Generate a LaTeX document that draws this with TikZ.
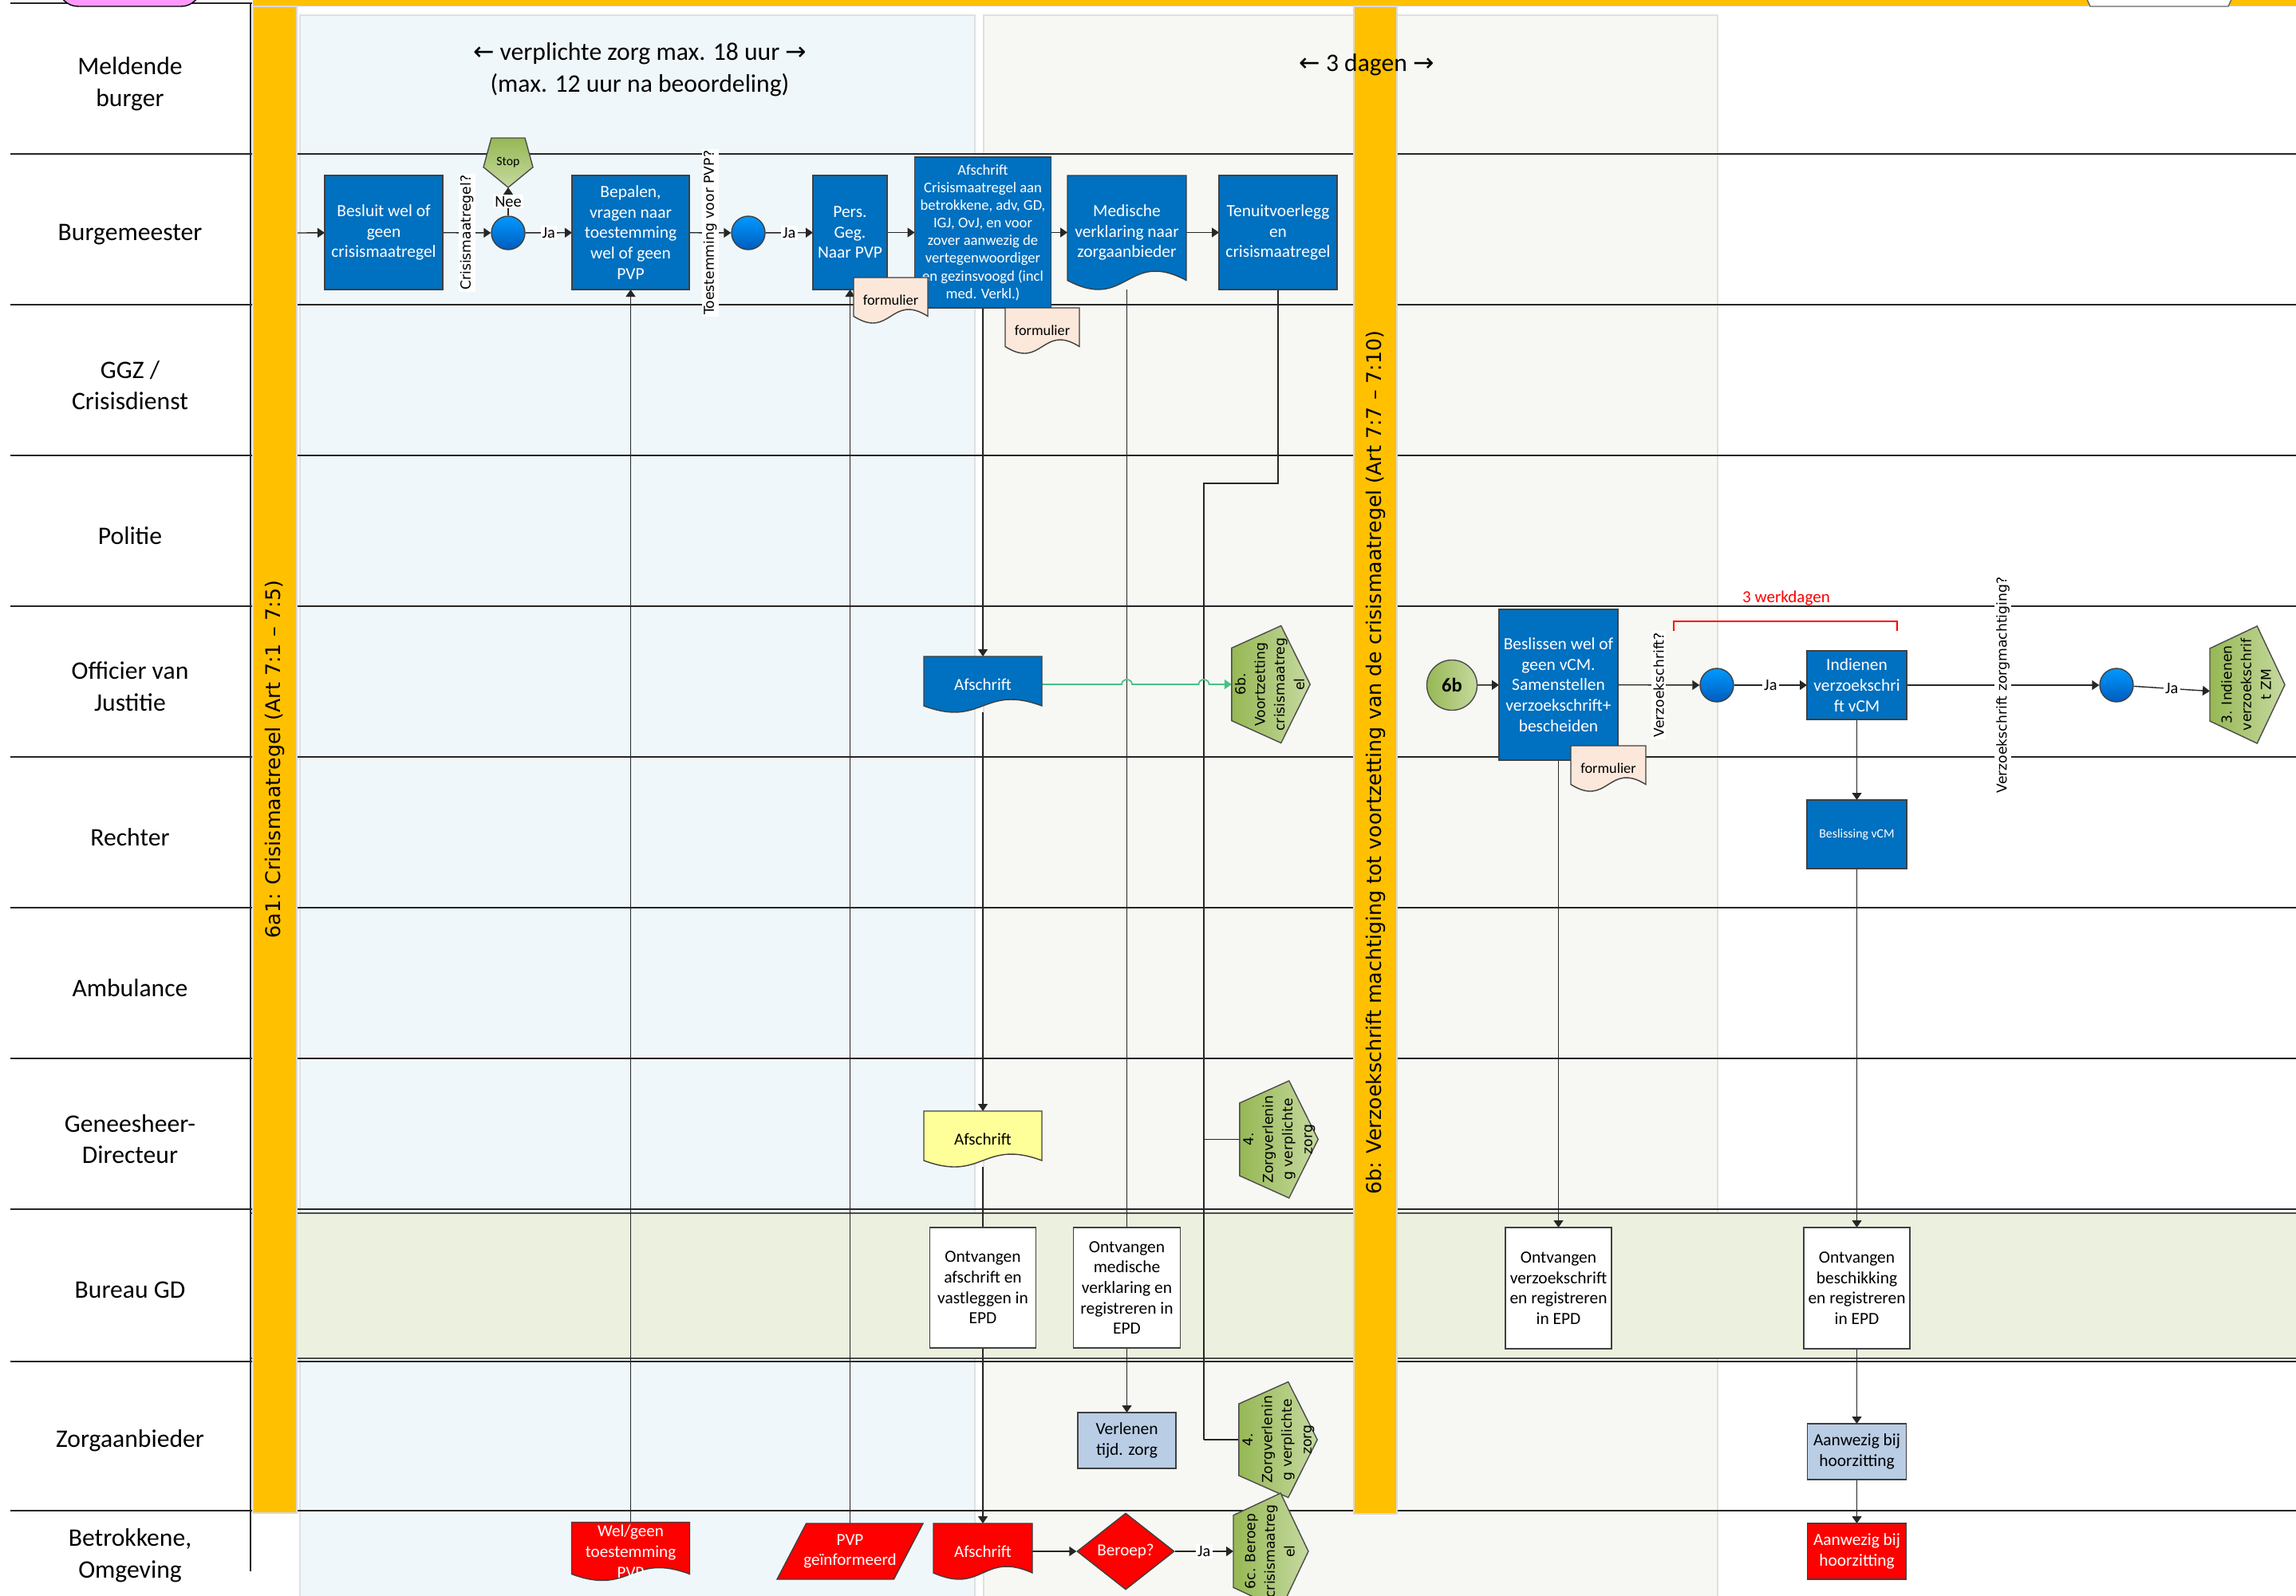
\documentclass[tikz,border=0pt]{standalone}
\usepackage{fontspec}
\usepackage{graphicx}
\setmainfont{Carlito}
\newfontfamily\verd{DejaVu Sans}
\usetikzlibrary{arrows.meta}
\usetikzlibrary{shapes.geometric}
\usetikzlibrary{calc}

\definecolor{vblue}{RGB}{0,112,192}
\definecolor{vyellow}{RGB}{255,192,0}
\definecolor{panelA}{RGB}{240,247,250}
\definecolor{panelB}{RGB}{247,248,243}
\definecolor{gdgreen}{RGB}{235,241,222}
\definecolor{oliveA}{RGB}{150,184,84}
\definecolor{oliveB}{RGB}{198,217,160}
\definecolor{gateA}{RGB}{0,153,255}
\definecolor{gateB}{RGB}{0,92,190}
\definecolor{peach}{RGB}{252,232,218}
\definecolor{paleblue}{RGB}{185,205,229}
\definecolor{paleyellow}{RGB}{255,255,153}
\definecolor{jumpgreen}{RGB}{70,195,130}
\definecolor{pinkish}{RGB}{255,153,255}

\makeatletter
\newdimen\shpxl \newdimen\shpxr \newdimen\shpyb \newdimen\shpyt
\newdimen\shpxm \newdimen\shpym \newdimen\shpwa \newdimen\shpwb \newdimen\shpwc
\def\docwave{0.08cm}
\def\shpbox{%
  \southwest \shpxl=\pgf@x \shpyb=\pgf@y
  \northeast \shpxr=\pgf@x \shpyt=\pgf@y
  \shpxm=.5\shpxl \advance\shpxm by .5\shpxr
  \shpym=.5\shpyb \advance\shpym by .5\shpyt}
% document with a wavy bottom
\pgfdeclareshape{wavedoc}{%
  \inheritsavedanchors[from=rectangle]%
  \inheritanchorborder[from=rectangle]%
  \inheritanchor[from=rectangle]{center}%
  \inheritanchor[from=rectangle]{mid}%
  \inheritanchor[from=rectangle]{base}%
  \inheritanchor[from=rectangle]{north}%
  \inheritanchor[from=rectangle]{south}%
  \inheritanchor[from=rectangle]{east}%
  \inheritanchor[from=rectangle]{west}%
  \inheritanchor[from=rectangle]{north east}%
  \inheritanchor[from=rectangle]{north west}%
  \inheritanchor[from=rectangle]{south east}%
  \inheritanchor[from=rectangle]{south west}%
  \backgroundpath{%
    \shpbox
    \pgfmathsetlength\shpwa{\docwave}%
    \shpwb=\shpyb \advance\shpwb by \shpwa
    \shpwc=\shpyb \advance\shpwc by 4.46\shpwa
    \pgfpathmoveto{\pgfqpoint{\shpxl}{\shpyt}}%
    \pgfpathlineto{\pgfqpoint{\shpxr}{\shpyt}}%
    \pgfpathlineto{\pgfqpoint{\shpxr}{\shpwb}}%
    \advance\shpyb by -2.46\shpwa
    \pgfpathcurveto{\pgfqpoint{\shpxm}{\shpwc}}{\pgfqpoint{\shpxm}{\shpyb}}{\pgfqpoint{\shpxl}{\shpwb}}%
    \pgfpathclose}}
% off-page reference, pointing right
\pgfdeclareshape{offright}{%
  \inheritsavedanchors[from=rectangle]%
  \inheritanchorborder[from=rectangle]%
  \inheritanchor[from=rectangle]{center}%
  \inheritanchor[from=rectangle]{north}%
  \inheritanchor[from=rectangle]{south}%
  \inheritanchor[from=rectangle]{east}%
  \inheritanchor[from=rectangle]{west}%
  \inheritanchor[from=rectangle]{north east}%
  \inheritanchor[from=rectangle]{north west}%
  \inheritanchor[from=rectangle]{south east}%
  \inheritanchor[from=rectangle]{south west}%
  \backgroundpath{%
    \shpbox
    \pgfpathmoveto{\pgfpointlineattime{0.19}{\pgfqpoint{\shpxl}{\shpyt}}{\pgfqpoint{\shpxl}{\shpyb}}}%
    \pgfpathlineto{\pgfpointlineattime{0.63}{\pgfqpoint{\shpxl}{\shpyt}}{\pgfqpoint{\shpxr}{\shpyt}}}%
    \pgfpathlineto{\pgfqpoint{\shpxr}{\shpym}}%
    \pgfpathlineto{\pgfpointlineattime{0.63}{\pgfqpoint{\shpxl}{\shpyb}}{\pgfqpoint{\shpxr}{\shpyb}}}%
    \pgfpathlineto{\pgfpointlineattime{0.81}{\pgfqpoint{\shpxl}{\shpyt}}{\pgfqpoint{\shpxl}{\shpyb}}}%
    \pgfpathclose}}
% off-page reference, pointing down
\pgfdeclareshape{offdown}{%
  \inheritsavedanchors[from=rectangle]%
  \inheritanchorborder[from=rectangle]%
  \inheritanchor[from=rectangle]{center}%
  \inheritanchor[from=rectangle]{north}%
  \inheritanchor[from=rectangle]{south}%
  \inheritanchor[from=rectangle]{east}%
  \inheritanchor[from=rectangle]{west}%
  \backgroundpath{%
    \shpbox
    \pgfpathmoveto{\pgfpointlineattime{0.16}{\pgfqpoint{\shpxl}{\shpyt}}{\pgfqpoint{\shpxr}{\shpyt}}}%
    \pgfpathlineto{\pgfpointlineattime{0.84}{\pgfqpoint{\shpxl}{\shpyt}}{\pgfqpoint{\shpxr}{\shpyt}}}%
    \pgfpathlineto{\pgfpointlineattime{0.59}{\pgfqpoint{\shpxr}{\shpyt}}{\pgfqpoint{\shpxr}{\shpyb}}}%
    \pgfpathlineto{\pgfqpoint{\shpxm}{\shpyb}}%
    \pgfpathlineto{\pgfpointlineattime{0.59}{\pgfqpoint{\shpxl}{\shpyt}}{\pgfqpoint{\shpxl}{\shpyb}}}%
    \pgfpathclose}}
% parallelogram
\pgfdeclareshape{slantbox}{%
  \inheritsavedanchors[from=rectangle]%
  \inheritanchorborder[from=rectangle]%
  \inheritanchor[from=rectangle]{center}%
  \inheritanchor[from=rectangle]{north}%
  \inheritanchor[from=rectangle]{south}%
  \inheritanchor[from=rectangle]{east}%
  \inheritanchor[from=rectangle]{west}%
  \backgroundpath{%
    \shpbox
    \pgfpathmoveto{\pgfpointlineattime{0.2}{\pgfqpoint{\shpxl}{\shpyt}}{\pgfqpoint{\shpxr}{\shpyt}}}%
    \pgfpathlineto{\pgfqpoint{\shpxr}{\shpyt}}%
    \pgfpathlineto{\pgfpointlineattime{0.2}{\pgfqpoint{\shpxr}{\shpyb}}{\pgfqpoint{\shpxl}{\shpyb}}}%
    \pgfpathlineto{\pgfqpoint{\shpxl}{\shpyb}}%
    \pgfpathclose}}
\makeatother

\pgfdeclarelayer{back}
\pgfdeclarelayer{wires}
\pgfsetlayers{back,wires,main}

\newcommand{\vtext}[1]{\rotatebox{90}{\begin{tabular}{@{}c@{}}#1\end{tabular}}}

\tikzset{
  wh/.style 2 args={minimum width=#1cm, minimum height=#2cm},
  doc wave/.code={\def\docwave{#1}},
  lanelabel/.style={align=center, font=\fontsize{9}{11.3}\selectfont},
  actbox/.style={rectangle, draw=black!75, fill=vblue, text=white, align=center, inner sep=1pt, outer sep=0pt, font=\fontsize{6.1}{7.3}\selectfont},
  gdbox/.style={rectangle, draw=black!75, fill=white, align=center, inner sep=1pt, outer sep=0pt, font=\fontsize{6.1}{7.3}\selectfont},
  docbox/.style={wavedoc, draw=black!75, align=center, inner sep=1pt, outer sep=0pt, font=\fontsize{6}{7.3}\selectfont},
  formdoc/.style={docbox, fill=peach, wh={0.93}{0.57}, doc wave=0.085cm, font=\fontsize{5.2}{6}\selectfont},
  gate/.style={circle, draw=black!75, top color=gateA, bottom color=gateB, minimum size=0.42cm, inner sep=0pt},
  offpage/.style={offright, draw=black!70, left color=oliveA, right color=oliveB, inner sep=0pt, outer sep=0pt, font=\verd\fontsize{4.9}{7}\selectfont},
  qlabel/.style={rotate=90, fill=white, inner sep=0.6pt, font=\verd\fontsize{4.9}{6}\selectfont},
  yeslabel/.style={fill=white, inner sep=0.6pt, font=\fontsize{5.8}{6.5}\selectfont},
  barlabel/.style={rotate=90, font=\verd\fontsize{7.2}{8.6}\selectfont},
  flow/.style={-{Triangle[length=0.09cm,width=0.12cm]}, line width=0.4pt, draw=black!85},
  wire/.style={line width=0.4pt, draw=black!85},
}

\begin{document}
\begin{tikzpicture}
\useasboundingbox (0,0) rectangle (28.78,-20);

\begin{pgfonlayer}{back}
  \fill[white] (0,0) rectangle (28.78,-20);
  % phase panels
  \draw[fill=panelA, draw=black!12, line width=0.6pt] (3.76,-0.19) rectangle (12.22,-20.3);
  \draw[fill=panelB, draw=black!12, line width=0.6pt] (12.33,-0.19) rectangle (21.53,-20.3);
  \draw[fill=gdgreen, draw=black!70, line width=0.4pt] (3.14,-15.21) rectangle (28.9,-17.03);
  % swimlanes
  \draw[black!85, line width=0.5pt] (0.13,-0.04) -- (3.16,-0.04);
  \foreach \y in {1.93,3.82,5.71,7.60,9.49,11.38,13.27,15.16,17.07,18.94}
    \draw[black!85, line width=0.5pt] (0.13,-\y) -- (28.78,-\y);
  \draw[black!85, line width=0.4pt] (3.14,-0.04) -- (3.14,-19.70);
  % top of the previous sheet
  \draw[fill=pinkish, rounded corners=0.25cm] (0.73,0.4) rectangle (2.52,-0.08);
  \fill[vyellow] (3.17,0) rectangle (28.78,-0.07);
  \draw[black!20] (3.17,-0.075) -- (28.78,-0.075);
  \draw[fill=white, draw=black!60] (26.14,0.05) -- (26.20,-0.08) -- (27.93,-0.08) -- (27.99,0.05);
  % phase bars
  \draw[fill=vyellow, draw=black!15] (3.17,-0.08) rectangle (3.72,-18.97);
  \draw[fill=vyellow, draw=black!15] (16.97,-0.08) rectangle (17.51,-18.98);
\end{pgfonlayer}

\node[barlabel] (bar1) at (3.445,-9.52) {6a1: Crisismaatregel (Art 7:1 – 7:5)};
\node[barlabel] (bar2) at (17.24,-9.56) {6b: Verzoekschrift machtiging tot voortzetting van de crisismaatregel (Art 7:7 – 7:10)};
\node[lanelabel] (hdr1) at (8.02,-0.875) {{\verd ←} verplichte zorg max. 18 uur {\verd →}\\(max. 12 uur na beoordeling)};
\node[lanelabel] (hdr2) at (17.13,-0.81) {{\verd ←} 3 dagen {\verd →}};

% lane names
\node[lanelabel] (lMeld) at (1.63,-1.05) {Meldende\\burger};
\node[lanelabel] (lBurg) at (1.63,-2.94) {Burgemeester};
\node[lanelabel] (lGGZ) at (1.63,-4.83) {GGZ /\\Crisisdienst};
\node[lanelabel] (lPol) at (1.63,-6.72) {Politie};
\node[lanelabel] (lOvJ) at (1.63,-8.61) {Officier van\\Justitie};
\node[lanelabel] (lRech) at (1.63,-10.50) {Rechter};
\node[lanelabel] (lAmb) at (1.63,-12.39) {Ambulance};
\node[lanelabel] (lGD) at (1.63,-14.28) {Geneesheer-\\Directeur};
\node[lanelabel] (lBGD) at (1.63,-16.17) {Bureau GD};
\node[lanelabel] (lZorg) at (1.63,-18.06) {Zorgaanbieder};
\node[lanelabel] (lBetr) at (1.63,-19.50) {Betrokkene,\\Omgeving};

% Burgemeester
\coordinate (entry) at (3.73,-2.92);
\node[actbox, wh={1.48}{1.43}] (besluit) at (4.81,-2.915) {Besluit wel of\\geen\\crisismaatregel};
\node[gate] (q1) at (6.37,-2.92) {};
\node[offdown, draw=black!70, top color=oliveA, bottom color=oliveB, wh={0.62}{0.62}, inner sep=0pt, outer sep=0pt, font=\fontsize{4.5}{5}\selectfont] (stop) at (6.37,-2.04) {Stop};
\node[actbox, wh={1.47}{1.43}] (bepalen) at (7.905,-2.915) {Bepalen,\\vragen naar\\toestemming\\wel of geen\\PVP};
\node[gate] (q2) at (9.38,-2.92) {};
\node[actbox, wh={0.93}{1.43}] (pers) at (10.655,-2.915) {Pers.\\Geg.\\Naar PVP};
\node[actbox, wh={1.71}{1.89}, font=\fontsize{5.3}{6.3}\selectfont] (afscm) at (12.32,-2.915) {Afschrift\\Crisismaatregel aan\\betrokkene, adv, GD,\\IGJ, OvJ, en voor\\zover aanwezig de\\vertegenwoordiger\\en gezinsvoogd (incl\\med. Verkl.)};
\node[docbox, fill=vblue, text=white, wh={1.49}{1.43}, doc wave=0.115cm, font=\fontsize{6.1}{7.3}\selectfont] (medisch) at (14.125,-2.915) {Medische\\verklaring naar\\zorgaanbieder};
\node[actbox, wh={1.48}{1.43}] (tenuit) at (16.02,-2.915) {Tenuitvoerlegg\\en\\crisismaatregel};
\node[formdoc] (form1) at (11.165,-3.765) {formulier};
\node[formdoc] (form2) at (13.065,-4.145) {formulier};

% Officier van Justitie
\node[docbox, fill=vblue, text=white, wh={1.48}{0.70}] (afsOvJ) at (12.32,-8.58) {Afschrift};
\node[offpage, wh={0.92}{1.47}] (vz6b) at (15.93,-8.58) {\vtext{6b.\\Voortzetting\\crisismaatreg\\el}};
\node[circle, draw=black!70, left color=oliveA, right color=oliveB, minimum size=0.63cm, inner sep=0pt, font=\bfseries\fontsize{7}{8}\selectfont] (s6b) at (18.20,-8.59) {6b};
\node[actbox, wh={1.49}{1.89}] (beslis) at (19.535,-8.585) {Beslissen wel of\\geen vCM.\\Samenstellen\\verzoekschrift+\\bescheiden};
\node[formdoc, wh={0.94}{0.57}] (form3) at (20.16,-9.635) {formulier};
\node[gate] (q3) at (21.52,-8.59) {};
\node[actbox, wh={1.25}{0.86}] (indien) at (23.275,-8.59) {Indienen\\verzoekschri\\ft vCM};
\node[gate] (q4) at (26.53,-8.59) {};
\node[offpage, wh={0.94}{1.47}] (zm3) at (28.17,-8.585) {\vtext{3. Indienen\\verzoekschrif\\t ZM}};
\draw[red, line width=0.6pt] (20.98,-7.91) -- (20.98,-7.79) -- (23.78,-7.79) -- (23.78,-7.91);
\node[text=red, font=\fontsize{6}{7}\selectfont] (werk) at (22.39,-7.50) {3 werkdagen};

% Rechter
\node[actbox, wh={1.25}{0.86}, font=\fontsize{4.5}{5.4}\selectfont] (beslising) at (23.275,-10.46) {Beslissing vCM};

% Geneesheer-Directeur
\node[docbox, fill=paleyellow, wh={1.48}{0.70}] (afsGD) at (12.32,-14.28) {Afschrift};
\node[offpage, wh={0.92}{1.47}] (zvGD) at (16.03,-14.285) {\vtext{4.\\Zorgverlenin\\g verplichte\\zorg}};

% Bureau GD
\node[gdbox, wh={1.33}{1.51}] (ontvA) at (12.32,-16.145) {Ontvangen\\afschrift en\\vastleggen in\\EPD};
\node[gdbox, wh={1.34}{1.51}] (ontvM) at (14.125,-16.145) {Ontvangen\\medische\\verklaring en\\registreren in\\EPD};
\node[gdbox, wh={1.33}{1.52}] (ontvV) at (19.535,-16.15) {Ontvangen\\verzoekschrift\\en registreren\\in EPD};
\node[gdbox, wh={1.33}{1.52}] (ontvB) at (23.275,-16.15) {Ontvangen\\beschikking\\en registreren\\in EPD};

% Zorgaanbieder
\node[gdbox, fill=paleblue, wh={1.23}{0.70}] (verlenen) at (14.125,-18.06) {Verlenen\\tijd. zorg};
\node[offpage, wh={0.93}{1.45}] (zvZA) at (16.02,-18.05) {\vtext{4.\\Zorgverlenin\\g verplichte\\zorg}};
\node[gdbox, fill=paleblue, wh={1.24}{0.70}] (aanwA) at (23.275,-18.20) {Aanwezig bij\\hoorzitting};

% Betrokkene, Omgeving
\node[docbox, fill=red, text=white, wh={1.48}{0.70}] (welgeen) at (7.905,-19.45) {Wel/geen\\toestemming\\PVP};
\node[slantbox, draw=black!75, fill=red, text=white, wh={1.83}{0.70}, align=center, inner sep=1pt, outer sep=0pt, font=\fontsize{6}{7.3}\selectfont] (pvpinf) at (10.655,-19.45) {PVP\\geïnformeerd};
\node[docbox, fill=red, text=white, wh={1.24}{0.70}] (afsRed) at (12.32,-19.45) {Afschrift};
\node[diamond, draw=black!75, fill=red, text=white, minimum width=1.22cm, minimum height=0.96cm, inner sep=0pt, font=\fontsize{6}{7}\selectfont] (beroep) at (14.11,-19.45) {Beroep?};
\node[offpage, wh={0.94}{1.46}] (ber6c) at (15.93,-19.45) {\vtext{6c. Beroep\\crisismaatreg\\el}};
\node[actbox, fill=red, wh={1.24}{0.70}] (aanwB) at (23.275,-19.45) {Aanwezig bij\\hoorzitting};

\begin{pgfonlayer}{wires}
  \draw[flow] (entry) -- (besluit);
  \draw[flow] (besluit) -- node[qlabel] {Crisismaatregel?} (q1);
  \draw[flow] (q1) -- node[yeslabel] {Nee} (stop);
  \draw[flow] (q1) -- node[yeslabel] {Ja} (bepalen);
  \draw[flow] (bepalen) -- node[qlabel] {Toestemming voor PVP?} (q2);
  \draw[flow] (q2) -- node[yeslabel] {Ja} (pers);
  \draw[flow] (pers) -- (afscm);
  \draw[flow] (afscm) -- (medisch);
  \draw[flow] (medisch) -- (tenuit);
  \draw[flow] (welgeen.north) -- (bepalen.south);
  \draw[flow] (pvpinf.north) -- (pers.south);
  \draw[flow] (afscm) -- (afsOvJ);
  \draw[flow] (afsOvJ) -- (afsGD);
  \draw[flow] (afsGD) -- (afsRed);
  \draw[flow] (medisch) -- (verlenen);
  % tenuitvoerlegging naar zorgverlening
  \coordinate (tk) at (15.09,-6.06);
  \draw[wire] (tenuit.south) |- (tk) -- (tk |- zvZA);
  \draw[flow] (tk |- zvGD) -- ([xshift=3mm]zvGD.center);
  \draw[flow] (tk |- zvZA) -- ([xshift=3mm]zvZA.center);
  \coordinate (jmp1) at (afsOvJ.east -| medisch.south);
  \coordinate (jmp2) at (afsOvJ.east -| tk);
  \draw[jumpgreen, line width=0.5pt, -{Triangle[length=0.09cm,width=0.12cm]}] (afsOvJ.east)
    -- ([xshift=-0.65mm]jmp1) arc[start angle=180, end angle=0, x radius=0.65mm, y radius=0.6mm]
    -- ([xshift=-0.65mm]jmp2) arc[start angle=180, end angle=0, x radius=0.65mm, y radius=0.6mm]
    -- (vz6b.west);
  \draw[flow] (afsRed) -- (beroep);
  \draw[flow] (beroep) -- node[yeslabel] {Ja} (ber6c);
  % verzoekschrift
  \draw[flow] (s6b) -- (beslis);
  \draw[flow] (beslis) -- node[qlabel] {Verzoekschrift?} (q3);
  \draw[flow] (q3) -- node[yeslabel] {Ja} (indien);
  \draw[flow] (indien) -- node[qlabel] {Verzoekschrift zorgmachtiging?} (q4);
  \draw[flow] (q4) -- node[yeslabel] {Ja} ([yshift=-0.8mm]zm3.west);
  \draw[flow] (beslis) -- (ontvV);
  \draw[flow] (indien) -- (beslising);
  \draw[flow] (beslising) -- (ontvB);
  \draw[flow] (ontvB) -- (aanwA);
  \draw[flow] (aanwA) -- (aanwB);
\end{pgfonlayer}
\end{tikzpicture}
\end{document}
